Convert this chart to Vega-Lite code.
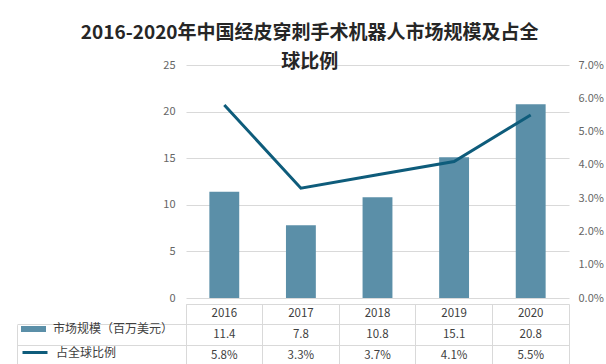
{
  "$schema": "https://vega.github.io/schema/vega-lite/v6.json",
  "padding": {"left": 16, "top": 24, "right": 2, "bottom": 0},
  "background": "white",
  "title": {
    "text": ["2016-2020年中国经皮穿刺手术机器人市场规模及占全", "球比例"],
    "font": "Noto Sans CJK SC",
    "fontSize": 19,
    "fontWeight": "bold",
    "color": "#262626",
    "lineHeight": 29,
    "anchor": "middle",
    "offset": -13
  },
  "config": {
    "font": "Noto Sans CJK SC",
    "axis": {"labelFont": "Noto Sans CJK SC"},
    "legend": {"labelFont": "Noto Sans CJK SC"}
  },
  "data": {
    "values": [
      {"year": "2016", "size": 11.4, "pct": 0.058},
      {"year": "2017", "size": 7.8, "pct": 0.033},
      {"year": "2018", "size": 10.8, "pct": 0.037},
      {"year": "2019", "size": 15.1, "pct": 0.041},
      {"year": "2020", "size": 20.8, "pct": 0.055}
    ]
  },
  "spacing": 0,
  "vconcat": [
    {
      "width": 383,
      "height": 233,
      "view": {"stroke": null},
      "encoding": {
        "x": {
          "field": "year",
          "type": "nominal",
          "scale": {"type": "band", "paddingInner": 0.61, "paddingOuter": 0.305},
          "axis": null
        }
      },
      "layer": [
        {
          "mark": {"type": "bar"},
          "encoding": {
            "y": {
              "field": "size",
              "type": "quantitative",
              "scale": {"domain": [0, 25]},
              "axis": {
                "values": [0, 5, 10, 15, 20, 25],
                "title": null,
                "grid": true,
                "gridColor": "#D9D9D9",
                "domain": false,
                "ticks": false,
                "labelPadding": 11,
                "labelColor": "#666666",
                "labelFontSize": 11
              }
            },
            "fill": {
              "datum": "市场规模（百万美元）",
              "scale": {"range": ["#5B8FA8"]},
              "legend": {
                "orient": "none",
                "legendX": -165,
                "legendY": 251.5,
                "title": null,
                "padding": 0,
                "symbolType": "M-1,-0.24H1V0.24H-1Z",
                "symbolSize": 625,
                "symbolStrokeWidth": 0,
                "labelFontSize": 12,
                "labelColor": "#404040",
                "labelOffset": 7
              }
            }
          }
        },
        {
          "mark": {"type": "line", "strokeWidth": 3},
          "encoding": {
            "y": {
              "field": "pct",
              "type": "quantitative",
              "scale": {"domain": [0, 0.07]},
              "axis": {
                "orient": "right",
                "values": [0, 0.01, 0.02, 0.03, 0.04, 0.05, 0.06, 0.07],
                "format": ".1%",
                "title": null,
                "grid": false,
                "domain": false,
                "ticks": false,
                "labelPadding": 9,
                "labelColor": "#666666",
                "labelFontSize": 11
              }
            },
            "stroke": {
              "datum": "占全球比例",
              "scale": {"range": ["#0E5C7B"]},
              "legend": {
                "orient": "none",
                "legendX": -165,
                "legendY": 273.5,
                "title": null,
                "padding": 0,
                "symbolType": "stroke",
                "symbolSize": 625,
                "symbolStrokeWidth": 3,
                "labelFontSize": 12,
                "labelColor": "#404040",
                "labelOffset": 7
              }
            }
          }
        }
      ],
      "resolve": {"scale": {"y": "independent"}}
    },
    {
      "width": 383,
      "height": 62,
      "view": {"stroke": "#D9D9D9"},
      "encoding": {
        "x": {
          "field": "year",
          "type": "nominal",
          "scale": {"type": "band", "paddingInner": 0, "paddingOuter": 0},
          "axis": {
            "orient": "bottom",
            "labels": false,
            "ticks": false,
            "domain": false,
            "grid": true,
            "gridColor": "#D9D9D9",
            "bandPosition": 0,
            "title": null
          }
        }
      },
      "layer": [
        {
          "mark": {"type": "text", "fontSize": 11.5, "color": "#404040"},
          "encoding": {
            "y": {
              "datum": "年份",
              "type": "nominal",
              "scale": {"type": "band", "domain": ["年份", "规模", "比例"], "paddingInner": 0, "paddingOuter": 0},
              "axis": {
                "orient": "left",
                "offset": 0,
                "labels": false,
                "title": null,
                "grid": true,
                "gridColor": "#D9D9D9",
                "domain": false,
                "ticks": true,
                "tickColor": "#D9D9D9",
                "tickSize": 169,
                "bandPosition": 1
              }
            },
            "text": {"field": "year"}
          }
        },
        {
          "mark": {"type": "text", "fontSize": 11.5, "color": "#404040"},
          "encoding": {
            "y": {
              "datum": "规模",
              "type": "nominal",
              "scale": {"type": "band", "domain": ["年份", "规模", "比例"], "paddingInner": 0, "paddingOuter": 0},
              "axis": {
                "orient": "left",
                "offset": 169,
                "labels": false,
                "title": null,
                "grid": false,
                "domain": true,
                "domainColor": "#D9D9D9",
                "domainDash": [0, 20.67, 41.33, 0],
                "ticks": false
              }
            },
            "text": {"field": "size", "type": "quantitative", "format": ".1f"}
          }
        },
        {
          "mark": {"type": "text", "fontSize": 11.5, "color": "#404040"},
          "encoding": {
            "y": {
              "datum": "比例",
              "type": "nominal",
              "scale": {"type": "band", "domain": ["年份", "规模", "比例"], "paddingInner": 0, "paddingOuter": 0},
              "axis": null
            },
            "text": {"field": "pct", "type": "quantitative", "format": ".1%"}
          }
        }
      ],
      "resolve": {"scale": {"y": "independent"}, "axis": {"y": "independent"}}
    }
  ]
}
